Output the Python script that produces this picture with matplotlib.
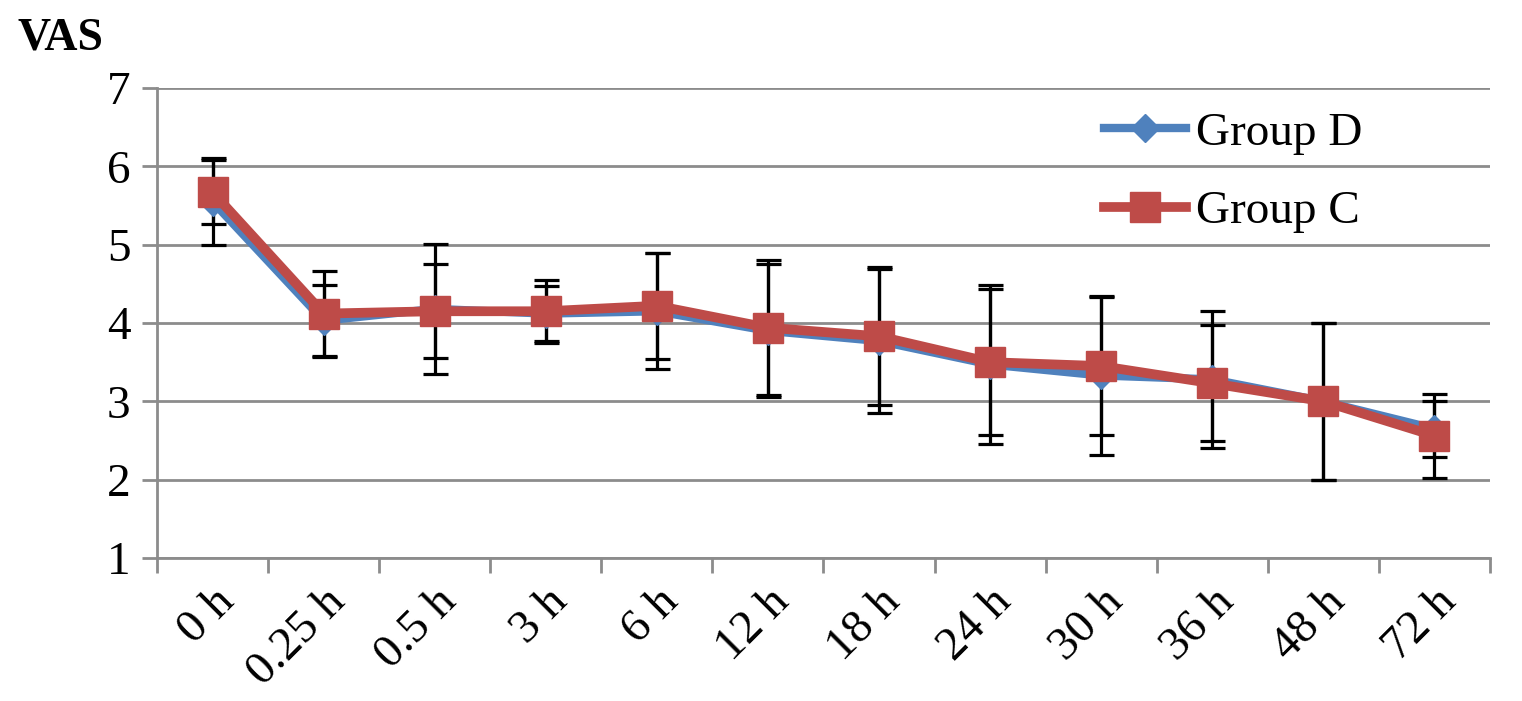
import numpy as np
import matplotlib.pyplot as plt

# data
times = ["0 h", "0.25 h", "0.5 h", "3 h", "6 h", "12 h", "18 h", "24 h", "30 h", "36 h", "48 h", "72 h"]
group_d = [5.55, 4.03, 4.18, 4.12, 4.15, 3.90, 3.77, 3.47, 3.33, 3.28, 3.00, 2.65]
group_d_sd = [0.56, 0.46, 0.83, 0.35, 0.74, 0.85, 0.92, 1.01, 1.01, 0.87, 1.00, 0.36]
group_c = [5.67, 4.12, 4.15, 4.15, 4.22, 3.94, 3.83, 3.50, 3.45, 3.23, 3.00, 2.56]
group_c_sd = [0.41, 0.54, 0.60, 0.40, 0.68, 0.86, 0.88, 0.93, 0.88, 0.74, 1.00, 0.54]

blue = "#4F81BD"
red = "#BE4B48"
grid_gray = "#8C8C8C"

plt.rcParams['font.family'] = ['Liberation Serif', 'DejaVu Serif']

fig = plt.figure(figsize=(15.22, 7.01), dpi=100)
ax = fig.add_axes([157 / 1522, 1 - 558 / 701, (1490 - 157) / 1522, (558 - 88) / 701])

x = np.arange(len(times))

# error bars underneath
ax.errorbar(x, group_d, yerr=group_d_sd, fmt="none", ecolor="black", elinewidth=2.3,
            capsize=9, capthick=2.3, zorder=2)
ax.errorbar(x, group_c, yerr=group_c_sd, fmt="none", ecolor="black", elinewidth=2.3,
            capsize=9, capthick=2.3, zorder=2)

ax.plot(x, group_d, color=blue, lw=6, marker="D", markersize=14, label="Group D", zorder=3)
ax.plot(x, group_c, color=red, lw=7, marker="s", markersize=21, label="Group C", zorder=4)

ax.set_xlim(-0.5, len(times) - 0.5)
ax.set_ylim(1, 7)
ax.set_yticks(range(1, 8))
ax.yaxis.grid(True, color=grid_gray, lw=2)
ax.set_axisbelow(True)

for s in ["top", "right"]:
    ax.spines[s].set_visible(False)
for s in ["left", "bottom"]:
    ax.spines[s].set_color(grid_gray)
    ax.spines[s].set_linewidth(2)

ax.set_xticks(x)
ax.set_xticklabels(times, rotation=45, ha="right", rotation_mode="anchor")
ax.set_xticks(np.arange(-0.5, len(times)), minor=True)
ax.tick_params(axis="x", which="major", length=0, labelsize=34, pad=16)
ax.tick_params(axis="x", which="minor", length=11, width=2, color=grid_gray)
ax.tick_params(axis="y", length=11, width=2, color=grid_gray, labelsize=34, pad=8)

fig.text(18 / 1522, 1 - 50 / 701, "VAS", fontsize=33, fontweight="bold")

ax.legend(loc="upper right", bbox_to_anchor=(0.936, 1.04), frameon=False, fontsize=34,
          handlelength=1.75, labelspacing=0.75, handletextpad=0.2)

fig.savefig("out.png", dpi=100)
